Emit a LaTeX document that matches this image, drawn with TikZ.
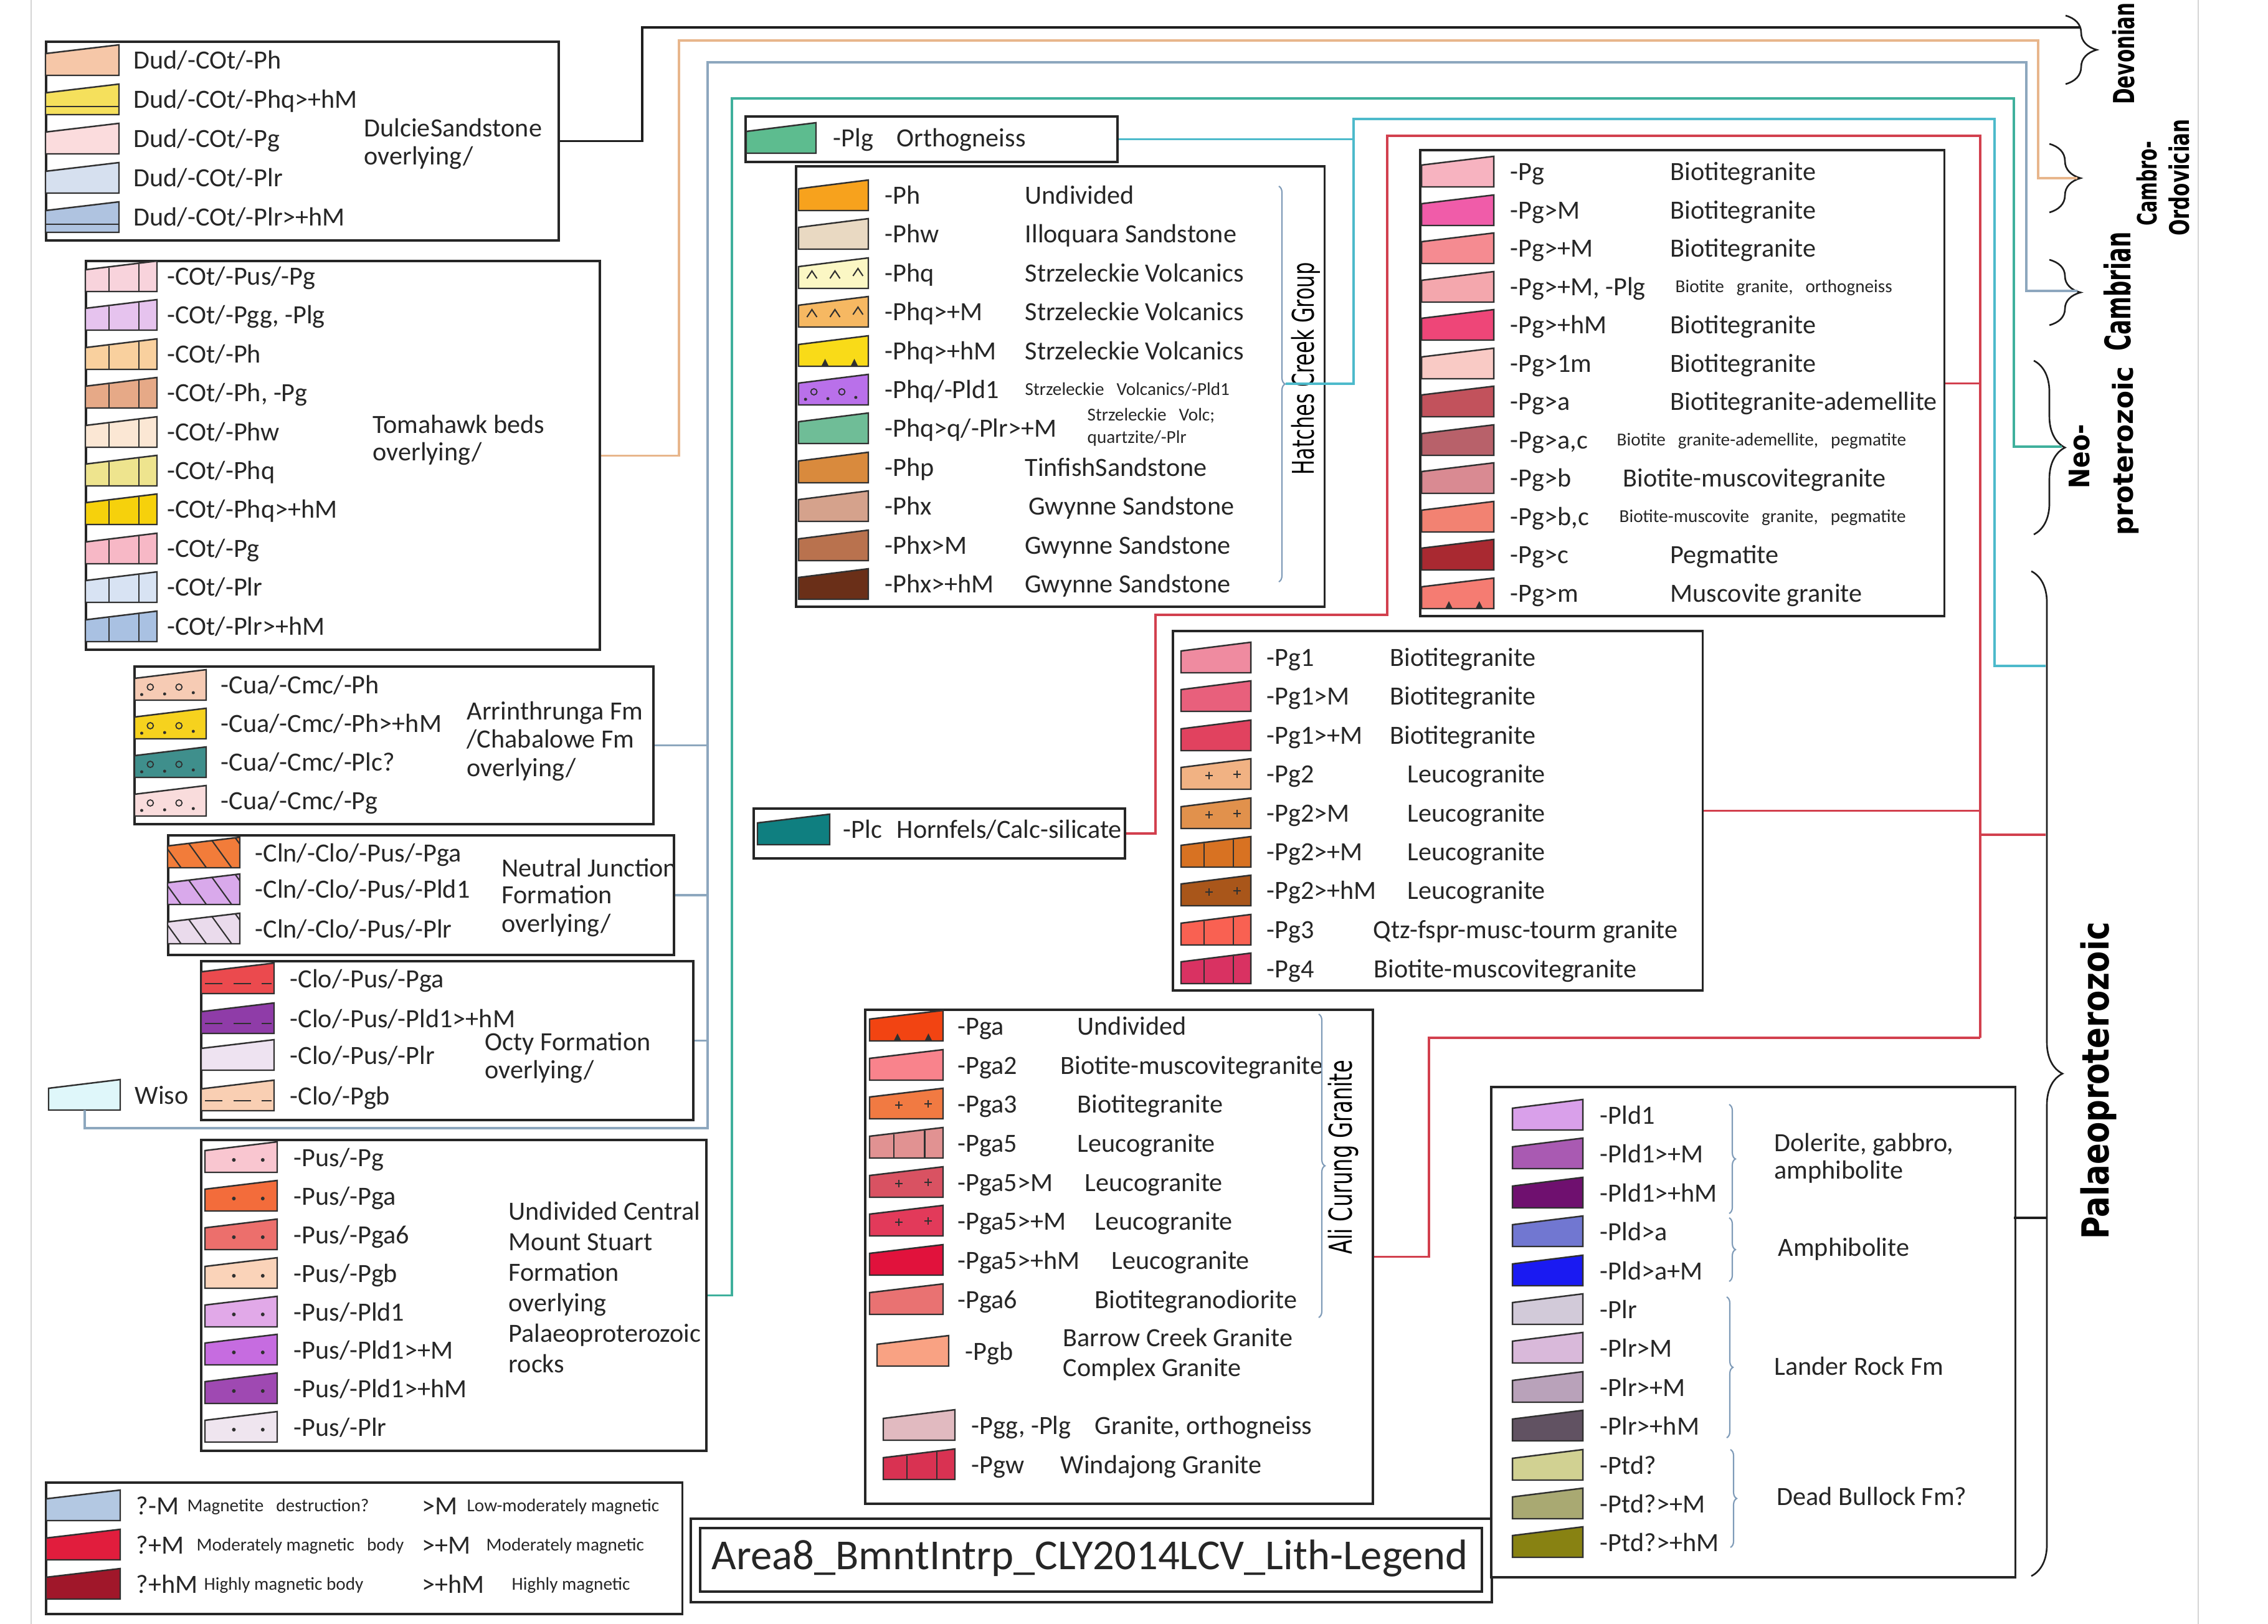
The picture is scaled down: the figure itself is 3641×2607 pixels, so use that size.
\documentclass[tikz,border=0pt]{standalone}
\usepackage{fontspec}
\setmainfont{Carlito}
\newfontfamily\dvs{DejaVu Sans}
\usetikzlibrary{decorations.pathreplacing}
\definecolor{boxc}{HTML}{262626}
\definecolor{swc}{HTML}{303030}
\definecolor{txc}{HTML}{262626}
\definecolor{framec}{HTML}{D4D4D4}
\definecolor{lkc}{HTML}{1E1E1E}
\definecolor{orc}{HTML}{E8B68C}
\definecolor{bgc}{HTML}{8DA7BE}
\definecolor{tlc}{HTML}{3FB09C}
\definecolor{cyc}{HTML}{4DBACB}
\definecolor{rdc}{HTML}{D2404E}
\definecolor{brc}{HTML}{7F9BB8}
\tikzset{
 bx/.style={draw=boxc,line width=1.1pt,inner sep=0pt,anchor=north west,fill=white,rectangle},
 swb/.style={draw=swc,line width=0.7pt},
 lb/.style={font=\fontsize{12}{14}\selectfont,text=txc,anchor=base west,inner sep=0pt},
 sm/.style={font=\fontsize{8.3}{10}\selectfont,text=txc,anchor=base west,inner sep=0pt},
 cn/.style={line width=0.9pt},
 br/.style={draw=brc,line width=0.6pt,decorate,decoration={brace,amplitude=0.1cm}},
 bigbr/.style={draw=lkc,line width=0.75pt,decorate,decoration={brace,amplitude=0.5cm}},
 vl/.style={rotate=90,inner sep=0pt,text=black},
 pt/.style={draw=swc,line width=0.6pt},
}
\newcommand\sw[4]{\definecolor{swf}{HTML}{#4}\filldraw[swb,fill=swf] (#1,#2+24) -- (#1,#2-11) -- (#1+#3,#2-25) -- (#1+#3,#2+24) -- cycle;}
\newcommand\rw[7]{\sw{#2}{#3}{#4}{#5}\node[lb] (#1) at (#6,#3+14) {#7};}
\newcommand\ds[4]{\node[lb] (#1) at (#2,#3+14) {#4};}
\newcommand\dss[4]{\node[sm] (#1) at (#2,#3+9) {#4};}
\newcommand\wg{\hspace{0.2cm}}
% patterns: x, c, W
\newcommand\phl[3]{\draw[pt,line width=0.8pt] (#1,#2+11) -- (#1+#3,#2+11);}
\newcommand\ptk[3]{\draw[pt] (#1+0.33*#3,#2+24) -- (#1+0.33*#3,#2-14) (#1+0.75*#3,#2+24) -- (#1+0.75*#3,#2-20);}
\newcommand\ppl[3]{\draw[pt] (#1+0.4*#3-6,#2+2) -- +(12,0) (#1+0.4*#3,#2-4) -- +(0,12) (#1+0.8*#3-6,#2) -- +(12,0) (#1+0.8*#3,#2-6) -- +(0,12);}
\newcommand\pdot[3]{\fill[swc] (#1+0.4*#3,#2+4) circle (3) (#1+0.8*#3,#2+4) circle (3);}
\newcommand\pcirc[3]{\draw[pt,line width=0.5pt] (#1+0.22*#3,#2+3) circle (5) (#1+0.62*#3,#2+3) circle (5);\fill[swc] (#1+0.42*#3,#2+14) circle (2.5) (#1+0.82*#3,#2+12) circle (2.5) (#1+0.1*#3,#2+15) circle (2.5);}
\newcommand\phat[3]{\begin{scope}\clip (#1,#2+24) -- (#1,#2-11) -- (#1+#3,#2-25) -- (#1+#3,#2+24) -- cycle;\foreach \k in {-0.15,0.2,0.55,0.9}{\draw[pt] (#1+\k*#3,#2-30) -- ++(42,58);}\end{scope}}
\newcommand\pdash[3]{\draw[pt,line width=0.8pt,dash pattern=on 8pt off 5pt] (#1+6,#2+8) -- (#1+#3-4,#2+8);}
\newcommand\pchev[3]{\draw[pt] (#1+0.12*#3,#2+8) -- ++(8,-12) -- ++(8,12) (#1+0.45*#3,#2+8) -- ++(8,-12) -- ++(8,12) (#1+0.78*#3,#2+4) -- ++(8,-12) -- ++(8,12);}
\newcommand\ptri[3]{\fill[swc] (#1+0.38*#3-6,#2+24) -- ++(6,-12) -- ++(6,12) -- cycle (#1+0.8*#3-6,#2+24) -- ++(6,-12) -- ++(6,12) -- cycle;}
\begin{document}
\begin{tikzpicture}[x=0.01cm,y=-0.01cm]
\fill[white] (0,0) rectangle (3641,2607);
\useasboundingbox (0,0) rectangle (3641,2607);
\draw[framec,line width=0.7pt] (50,0) -- (50,2607) (3529,0) -- (3529,2607);

% ---------- Dulcie
\node[bx,minimum width=8.23cm,minimum height=3.19cm] (dulcie) at (72,65) {};
\rw{d1}{73}{97}{118}{F6C7A8}{214}{Dud/-COt/-Ph}
\rw{d2}{73}{160}{118}{F5E05C}{214}{Dud/-COt/-Phq>+hM}\phl{73}{160}{118}
\rw{d3}{73}{223}{118}{FBDCDD}{214}{Dud/-COt/-Pg}
\rw{d4}{73}{286}{118}{D6E0EF}{214}{Dud/-COt/-Plr}
\rw{d5}{73}{349}{118}{AFC3E0}{214}{Dud/-COt/-Plr>+hM}\phl{73}{349}{118}
\node[lb] (dl1) at (584,220) {DulcieSandstone};
\node[lb] (dl2) at (584,265) {overlying/};

% ---------- Tomahawk
\node[bx,minimum width=8.25cm,minimum height=6.24cm] (toma) at (136,417) {};
\rw{t1}{137}{444}{115}{F8D3DC}{268}{-COt/-Pus/-Pg}\ptk{137}{444}{115}
\rw{t2}{137}{506}{115}{E6C3EE}{268}{-COt/-Pgg, -Plg}\ptk{137}{506}{115}
\rw{t3}{137}{569}{115}{F9D09E}{268}{-COt/-Ph}\ptk{137}{569}{115}
\rw{t4}{137}{631}{115}{E6A987}{268}{-COt/-Ph, -Pg}\ptk{137}{631}{115}
\rw{t5}{137}{694}{115}{FBE7D4}{268}{-COt/-Phw}\ptk{137}{694}{115}
\rw{t6}{137}{756}{115}{EEE48E}{268}{-COt/-Phq}\ptk{137}{756}{115}
\rw{t7}{137}{818}{115}{F6D10C}{268}{-COt/-Phq>+hM}\ptk{137}{818}{115}
\rw{t8}{137}{881}{115}{F7B8C6}{268}{-COt/-Pg}\ptk{137}{881}{115}
\rw{t9}{137}{943}{115}{D8E3F3}{268}{-COt/-Plr}\ptk{137}{943}{115}
\rw{t10}{137}{1006}{115}{A9C1E2}{268}{-COt/-Plr>+hM}\ptk{137}{1006}{115}
\node[lb] (tl1) at (598,696) {Tomahawk beds};
\node[lb] (tl2) at (598,740) {overlying/};

% ---------- Arrinthrunga
\node[bx,minimum width=8.33cm,minimum height=2.53cm] (arr) at (214,1068) {};
\rw{a1x}{216}{1100}{115}{F6CBB4}{354}{-Cua/-Cmc/-Ph}\pcirc{216}{1100}{115}
\rw{a2x}{216}{1162}{115}{F6D21E}{354}{-Cua/-Cmc/-Ph>+hM}\pcirc{216}{1162}{115}
\rw{a3x}{216}{1224}{115}{3F8F8C}{354}{-Cua/-Cmc/-Plc?}\pcirc{216}{1224}{115}
\rw{a4x}{216}{1286}{115}{F9DCDC}{354}{-Cua/-Cmc/-Pg}\pcirc{216}{1286}{115}
\node[lb] (al1) at (749,1156) {Arrinthrunga Fm};
\node[lb] (al2) at (749,1201) {/Chabalowe Fm};
\node[lb] (al3) at (749,1247) {overlying/};

% ---------- Neutral Junction
\node[bx,minimum width=8.12cm,minimum height=1.92cm] (nj) at (268,1339) {};
\rw{n1}{269}{1369}{116}{F27C3A}{409}{-Cln/-Clo/-Pus/-Pga}\phat{269}{1369}{116}
\rw{n2}{269}{1428}{116}{D9A9EB}{409}{-Cln/-Clo/-Pus/-Pld1}\phat{269}{1428}{116}
\rw{n3}{269}{1491}{116}{EADBEC}{409}{-Cln/-Clo/-Pus/-Plr}\phat{269}{1491}{116}
\node[lb] (nl1) at (805,1407) {Neutral Junction};
\node[lb] (nl2) at (805,1451) {Formation};
\node[lb] (nl3) at (805,1497) {overlying/};

% ---------- Octy
\node[bx,minimum width=7.90cm,minimum height=2.55cm] (octy) at (321,1541) {};
\rw{o1}{323}{1571}{117}{EB4A4E}{465}{-Clo/-Pus/-Pga}\pdash{323}{1571}{117}
\rw{o2}{323}{1635}{117}{8F3CA8}{465}{-Clo/-Pus/-Pld1>+hM}\pdash{323}{1635}{117}
\rw{o3}{323}{1694}{117}{EEE3F1}{465}{-Clo/-Pus/-Plr}
\rw{o4}{323}{1759}{117}{F9CFB3}{465}{-Clo/-Pgb}\pdash{323}{1759}{117}
\node[lb] (ol1) at (778,1686) {Octy Formation};
\node[lb] (ol2) at (778,1731) {overlying/};

% ---------- Wiso
\rw{wiso}{78}{1758}{115}{DFF7FA}{216}{Wiso}

% ---------- Mount Stuart
\node[bx,minimum width=8.11cm,minimum height=4.99cm] (pus) at (321,1828) {};
\rw{u1}{329}{1858}{116}{F9C6D0}{471}{-Pus/-Pg}\pdot{329}{1858}{116}
\rw{u2}{329}{1920}{116}{F36C3B}{471}{-Pus/-Pga}\pdot{329}{1920}{116}
\rw{u3}{329}{1982}{116}{EC6F6C}{471}{-Pus/-Pga6}\pdot{329}{1982}{116}
\rw{u4}{329}{2044}{116}{FAD3B9}{471}{-Pus/-Pgb}\pdot{329}{2044}{116}
\rw{u5}{329}{2106}{116}{E1A9E8}{471}{-Pus/-Pld1}\pdot{329}{2106}{116}
\rw{u6}{329}{2167}{116}{C66CE0}{471}{-Pus/-Pld1>+M}\pdot{329}{2167}{116}
\rw{u7}{329}{2229}{116}{9F49B2}{471}{-Pus/-Pld1>+hM}\pdot{329}{2229}{116}
\rw{u8}{329}{2291}{116}{EFE5EF}{471}{-Pus/-Plr}\pdot{329}{2291}{116}
\node[lb] (ul1) at (816,1958) {Undivided Central};
\node[lb] (ul2) at (816,2007) {Mount Stuart};
\node[lb] (ul3) at (816,2056) {Formation};
\node[lb] (ul4) at (816,2105) {overlying};
\node[lb] (ul5) at (816,2154) {Palaeoproterozoic};
\node[lb] (ul6) at (816,2203) {rocks};

% ---------- Magnetic legend
\node[bx,minimum width=10.21cm,minimum height=2.11cm] (mag) at (72,2378) {};
\rw{m1}{74}{2417}{119}{B3C8E2}{218}{?-M}
\dss{m1d}{300}{2417}{Magnetite\wg destruction?}
\ds{m1b}{677}{2417}{>M}
\dss{m1e}{749}{2417}{Low-moderately magnetic}
\rw{m2}{74}{2480}{119}{E11D3D}{218}{?+M}
\dss{m2d}{315}{2480}{Moderately magnetic\wg body}
\ds{m2b}{677}{2480}{>+M}
\dss{m2e}{780}{2480}{Moderately magnetic}
\rw{m3}{74}{2543}{119}{A0172A}{218}{?+hM}
\dss{m3d}{327}{2543}{Highly magnetic body}
\ds{m3b}{677}{2543}{>+hM}
\dss{m3e}{821}{2543}{Highly magnetic}

% ---------- Title
\node[bx,minimum width=12.85cm,minimum height=1.34cm] (ttlo) at (1107,2436) {};
\node[bx,minimum width=12.54cm,minimum height=1.02cm] (ttli) at (1122,2451) {};
\node[font=\fontsize{19.5}{22}\selectfont,text=txc,inner sep=0pt] (ttl) at (1750,2502) {Area8\_BmntIntrp\_CLY2014LCV\_Lith-Legend};

% ---------- Orthogneiss
\node[bx,minimum width=5.97cm,minimum height=0.73cm] (ortho) at (1195,185) {};
\rw{og}{1198}{222}{112}{5DBC8F}{1337}{-Plg}
\ds{ogd}{1439}{222}{Orthogneiss}

% ---------- Hatches Creek
\node[bx,minimum width=8.48cm,minimum height=7.07cm] (hatch) at (1276,265) {};
\rw{h1}{1282}{314}{112}{F7A21D}{1420}{-Ph}\ds{h1d}{1645}{314}{Undivided}
\rw{h2}{1282}{376}{112}{E9D9C2}{1420}{-Phw}\ds{h2d}{1645}{376}{Illoquara Sandstone}
\rw{h3}{1282}{439}{112}{FBF7C4}{1420}{-Phq}\pchev{1282}{439}{112}\ds{h3d}{1645}{439}{Strzeleckie Volcanics}
\rw{h4}{1282}{501}{112}{F6B862}{1420}{-Phq>+M}\pchev{1282}{501}{112}\ds{h4d}{1645}{501}{Strzeleckie Volcanics}
\rw{h5}{1282}{564}{112}{F9DB18}{1420}{-Phq>+hM}\ptri{1282}{564}{112}\ds{h5d}{1645}{564}{Strzeleckie Volcanics}
\rw{h6}{1282}{626}{112}{B970EA}{1420}{-Phq/-Pld1}\pcirc{1282}{626}{112}\dss{h6d}{1645}{626}{Strzeleckie\wg Volcanics/-Pld1}
\rw{h7}{1282}{688}{112}{6FBD97}{1420}{-Phq>q/-Plr>+M}
\node[sm] (h7d) at (1745,676) {Strzeleckie\wg Volc;};
\node[sm] (h7e) at (1745,712) {quartzite/-Plr};
\rw{h8}{1282}{751}{112}{D98A3D}{1420}{-Php}\ds{h8d}{1645}{751}{TinfishSandstone}
\rw{h9}{1282}{813}{112}{D5A28C}{1420}{-Phx}\ds{h9d}{1651}{813}{Gwynne Sandstone}
\rw{h10}{1282}{876}{112}{B9724E}{1420}{-Phx>M}\ds{h10d}{1645}{876}{Gwynne Sandstone}
\rw{h11}{1282}{938}{112}{6A2F18}{1420}{-Phx>+hM}\ds{h11d}{1645}{938}{Gwynne Sandstone}
\draw[br] (2053,299) -- (2053,934);
\node[vl] (hcg) at (2096,592) {\scalebox{1}[1.5]{\dvs\fontsize{9.1}{10}\selectfont Hatches Creek Group}};

% ---------- Biotite granite (Pg)
\node[bx,minimum width=8.41cm,minimum height=7.48cm] (pg) at (2278,239) {};
\rw{p1}{2282}{276}{116}{F7B3C0}{2424}{-Pg}\ds{p1d}{2681}{276}{Biotitegranite}
\rw{p2}{2282}{338}{116}{F05CA9}{2424}{-Pg>M}\ds{p2d}{2681}{338}{Biotitegranite}
\rw{p3}{2282}{399}{116}{F58B91}{2424}{-Pg>+M}\ds{p3d}{2681}{399}{Biotitegranite}
\rw{p4}{2282}{461}{116}{F4A7AD}{2424}{-Pg>+M, -Plg}\dss{p4d}{2689}{461}{Biotite\wg granite,\wg orthogneiss}
\rw{p5}{2282}{522}{116}{EE4678}{2424}{-Pg>+hM}\ds{p5d}{2681}{522}{Biotitegranite}
\rw{p6}{2282}{584}{116}{F9CAC5}{2424}{-Pg>1m}\ds{p6d}{2681}{584}{Biotitegranite}
\rw{p7}{2282}{645}{116}{C2525C}{2424}{-Pg>a}\ds{p7d}{2681}{645}{Biotitegranite-ademellite}
\rw{p8}{2282}{707}{116}{B8616A}{2424}{-Pg>a,c}\dss{p8d}{2595}{707}{Biotite\wg granite-ademellite,\wg pegmatite}
\rw{p9}{2282}{768}{116}{D98A92}{2424}{-Pg>b}\ds{p9d}{2605}{768}{Biotite-muscovitegranite}
\rw{p10}{2282}{830}{116}{F28272}{2424}{-Pg>b,c}\dss{p10d}{2599}{830}{Biotite-muscovite\wg granite,\wg pegmatite}
\rw{p11}{2282}{891}{116}{A92931}{2424}{-Pg>c}\ds{p11d}{2681}{891}{Pegmatite}
\rw{p12}{2282}{953}{116}{F57C72}{2424}{-Pg>m}\ptri{2282}{953}{116}\ds{p12d}{2681}{953}{Muscovite granite}

% ---------- Pg1 box
\node[bx,minimum width=8.50cm,minimum height=5.77cm] (pg1) at (1881,1011) {};
\rw{q1}{1896}{1056}{112}{EF8BA0}{2033}{-Pg1}\ds{q1d}{2231}{1056}{Biotitegranite}
\rw{q2}{1896}{1118}{112}{E8607C}{2033}{-Pg1>M}\ds{q2d}{2231}{1118}{Biotitegranite}
\rw{q3}{1896}{1181}{112}{E1425F}{2033}{-Pg1>+M}\ds{q3d}{2231}{1181}{Biotitegranite}
\rw{q4}{1896}{1243}{112}{F1B283}{2033}{-Pg2}\ppl{1896}{1243}{112}\ds{q4d}{2259}{1243}{Leucogranite}
\rw{q5}{1896}{1306}{112}{E1914C}{2033}{-Pg2>M}\ppl{1896}{1306}{112}\ds{q5d}{2259}{1306}{Leucogranite}
\rw{q6}{1896}{1368}{112}{D87222}{2033}{-Pg2>+M}\ptk{1896}{1368}{112}\ds{q6d}{2259}{1368}{Leucogranite}
\rw{q7}{1896}{1430}{112}{A9561A}{2033}{-Pg2>+hM}\ppl{1896}{1430}{112}\ds{q7d}{2259}{1430}{Leucogranite}
\rw{q8}{1896}{1493}{112}{F96152}{2033}{-Pg3}\ptk{1896}{1493}{112}\ds{q8d}{2204}{1493}{Qtz-fspr-musc-tourm granite}
\rw{q9}{1896}{1555}{112}{D93262}{2033}{-Pg4}\ptk{1896}{1555}{112}\ds{q9d}{2205}{1555}{Biotite-muscovitegranite}

% ---------- Plc
\node[bx,minimum width=5.96cm,minimum height=0.80cm] (plc) at (1208,1296) {};
\rw{pc}{1216}{1332}{116}{0F7F80}{1353}{-Plc}
\ds{pcd}{1439}{1332}{Hornfels/Calc-silicate}

% ---------- Ali Curung
\node[bx,minimum width=8.15cm,minimum height=7.93cm] (ali) at (1387,1619) {};
\rw{g1}{1396}{1647}{118}{F24412}{1537}{-Pga}\ptri{1396}{1647}{118}\ds{g1d}{1729}{1647}{Undivided}
\rw{g2}{1396}{1710}{118}{F9838C}{1537}{-Pga2}\ds{g2d}{1702}{1710}{Biotite-muscovitegranite}
\rw{g3}{1396}{1772}{118}{F17A42}{1537}{-Pga3}\ppl{1396}{1772}{118}\ds{g3d}{1729}{1772}{Biotitegranite}
\rw{g4}{1396}{1835}{118}{E19292}{1537}{-Pga5}\ptk{1396}{1835}{118}\ds{g4d}{1729}{1835}{Leucogranite}
\rw{g5}{1396}{1898}{118}{D95262}{1537}{-Pga5>M}\ppl{1396}{1898}{118}\ds{g5d}{1741}{1898}{Leucogranite}
\rw{g6}{1396}{1960}{118}{E23A5A}{1537}{-Pga5>+M}\ppl{1396}{1960}{118}\ds{g6d}{1757}{1960}{Leucogranite}
\rw{g7}{1396}{2023}{118}{E1123C}{1537}{-Pga5>+hM}\ds{g7d}{1784}{2023}{Leucogranite}
\rw{g8}{1396}{2086}{118}{E97272}{1537}{-Pga6}\ds{g8d}{1757}{2086}{Biotitegranodiorite}
\rw{g9}{1408}{2169}{115}{F9A283}{1549}{-Pgb}
\node[lb] (g9d) at (1706,2161) {Barrow Creek Granite};
\node[lb] (g9e) at (1706,2209) {Complex Granite};
\rw{g10}{1418}{2288}{115}{E1BAC0}{1559}{-Pgg, -Plg}\ds{g10d}{1757}{2288}{Granite, orthogneiss}
\rw{g11}{1418}{2351}{115}{D93252}{1559}{-Pgw}\ptk{1418}{2351}{115}\ds{g11d}{1702}{2351}{Windajong Granite}
\draw[br] (2117,1628) -- (2117,2115);
\node[vl] (acg) at (2157,1858) {\scalebox{1}[1.5]{\dvs\fontsize{9.6}{10}\selectfont Ali Curung Granite}};

% ---------- Pld box
\node[bx,minimum width=8.41cm,minimum height=7.87cm] (pld) at (2392,1743) {};
\rw{l1}{2428}{1790}{113}{D9A0EA}{2568}{-Pld1}
\rw{l2}{2428}{1852}{113}{A95AB2}{2568}{-Pld1>+M}
\rw{l3}{2428}{1915}{113}{6F106F}{2568}{-Pld1>+hM}
\rw{l4}{2428}{1977}{113}{7177D1}{2568}{-Pld>a}
\rw{l5}{2428}{2040}{113}{1A1AF2}{2568}{-Pld>a+M}
\rw{l6}{2428}{2102}{113}{D2CAD9}{2568}{-Plr}
\rw{l7}{2428}{2164}{113}{D9B9DA}{2568}{-Plr>M}
\rw{l8}{2428}{2227}{113}{B9A2BA}{2568}{-Plr>+M}
\rw{l9}{2428}{2289}{113}{615262}{2568}{-Plr>+hM}
\rw{l10}{2428}{2352}{113}{D1D192}{2568}{-Ptd?}
\rw{l11}{2428}{2414}{113}{A9A972}{2568}{-Ptd?>+M}
\rw{l12}{2428}{2476}{113}{888212}{2568}{-Ptd?>+hM}
\draw[br] (2776,1773) -- (2776,1948);
\draw[br] (2776,1955) -- (2776,2057);
\draw[br] (2772,2082) -- (2772,2308);
\draw[br] (2778,2327) -- (2778,2484);
\node[lb] (ll1) at (2848,1848) {Dolerite, gabbro,};
\node[lb] (ll2) at (2848,1892) {amphibolite};
\node[lb] (ll3) at (2854,2016) {Amphibolite};
\node[lb] (ll4) at (2848,2207) {Lander Rock Fm};
\node[lb] (ll5) at (2852,2416) {Dead Bullock Fm?};

% ---------- Period braces and labels
\draw[bigbr] (3316,25) -- (3316,135);
\draw[bigbr] (3290,231) -- (3290,341);
\draw[bigbr] (3290,417) -- (3290,522);
\draw[bigbr] (3265,579) -- (3265,858);
\draw[bigbr] (3261,917) -- (3261,2530);
\node[vl] (dev) at (3409,86) {\scalebox{1}[1.5]{\dvs\bfseries\fontsize{8.8}{10}\selectfont Devonian}};
\node[vl] (cam1) at (3447,295) {\scalebox{1}[1.5]{\dvs\bfseries\fontsize{8.1}{10}\selectfont Cambro-}};
\node[vl] (cam2) at (3498,285) {\scalebox{1}[1.4]{\dvs\bfseries\fontsize{8.8}{10}\selectfont Ordovician}};
\node[vl] (cmb) at (3399,468) {\scalebox{1}[1.6]{\dvs\bfseries\fontsize{10.1}{11}\selectfont Cambrian}};
\node[vl] (neo1) at (3338,733) {\scalebox{1}[1.15]{\dvs\bfseries\fontsize{11.2}{12}\selectfont Neo-}};
\node[vl] (neo2) at (3412,724) {\scalebox{1}[1.05]{\dvs\bfseries\fontsize{12}{13}\selectfont proterozoic}};
\node[vl] (pal) at (3369,1735) {\scalebox{1}[1.2]{\dvs\bfseries\fontsize{14.2}{16}\selectfont Palaeoproterozoic}};

% ---------- Connectors
\coordinate (devend) at (3340,44);
\coordinate (coend) at (3335,286);
\coordinate (cbend) at (3335,467);
\coordinate (neoend) at (3310,717);
\coordinate (palc) at (3284,1069);
\coordinate (palr) at (3284,1340);
\coordinate (palk) at (3285,1955);
\coordinate (pldc) at (3233,1955);
\coordinate (wisob) at (136,1782);
\coordinate (cbx) at (1136,100);
\coordinate (rtr) at (3179,218);
\coordinate (hctip) at (2064,616);

\draw[cn,lkc] (dulcie.east) -| (1031,44) -- (devend);
\draw[cn,orc] (toma.east) -| (1090,65) -| (3272,286) -- (coend);
\draw[cn,bgc] (wisob) |- (1136,1811) -- (cbx) -| (3253,467) -- (cbend);
\draw[cn,bgc] (arr.east) -- (arr.east -| cbx);
\draw[cn,bgc] (nj.east) -- (nj.east -| cbx);
\draw[cn,bgc] (octy.east) -- (octy.east -| cbx);
\draw[cn,tlc] (pus.east) -| (1175,158) -| (3233,717) -- (neoend);
\draw[cn,cyc] (ortho.east) -| (2173,191) -| (3202,1069) -- (palc);
\draw[cn,cyc] (hctip) -| (2173,221);
\draw[cn,rdc] (plc.east) -| (1855,987) -| (2227,218) -| (3179,1666);
\draw[cn,rdc] (ali.east) -| (2294,1666) -- (3179,1666);
\draw[cn,rdc] (pg.east) -- (pg.east -| rtr);
\draw[cn,rdc] (pg1.east) -- (pg1.east -| rtr);
\draw[cn,rdc] (3179,1340) -- (palr);
\draw[cn,lkc] (pldc) -- (palk);
\end{tikzpicture}
\end{document}
